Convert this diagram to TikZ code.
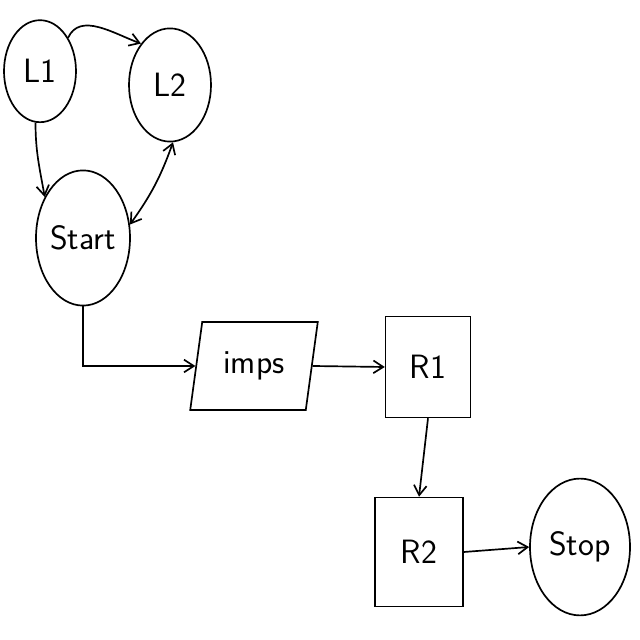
\documentclass[tikz,border=0pt]{standalone}
\usepackage{xcolor}
\usepackage{tikz}
\usetikzlibrary{positioning, arrows.meta, shapes.geometric}

\begin{document}
\begin{tikzpicture}[
  termnode/.style={ellipse, draw=black, line width=1.2pt, inner sep=0pt,
                   font=\fontsize{24}{28}\selectfont\sffamily},
  procnode/.style={rectangle, draw=black, line width=1.2pt, inner sep=0pt,
                   font=\fontsize{24}{28}\selectfont\sffamily},
  ionode/.style={trapezium, trapezium left angle=76, trapezium right angle=104,
                 trapezium stretches=true, draw=black, line width=1.2pt,
                 minimum width=3.2cm, minimum height=2.2cm, inner sep=0pt,
                 font=\fontsize{24}{28}\selectfont\sffamily},
  arr/.style={-{Straight Barb[length=7pt, width=9pt]}, line width=1.2pt}
]
\useasboundingbox (0,0) rectangle (16,16);

% Loop nodes
\node[termnode, minimum width=1.8cm, minimum height=2.55cm] (l1) at (1.0, 14.22) {L1};
\node[termnode, minimum width=2.05cm, minimum height=2.83cm] (l2) at (4.25, 13.875) {L2};
\node[termnode, minimum width=2.35cm, minimum height=3.38cm] (start) at (2.075, 10.05) {Start};

% Process chain
\node[ionode] (imps) at (6.35, 6.85) {imps};
\node[procnode, minimum width=2.12cm, minimum height=2.52cm] (r1) at (10.7, 6.825) {R1};
\node[procnode, minimum width=2.2cm, minimum height=2.72cm] (r2) at (10.475, 2.2) {R2};
\node[termnode, minimum width=2.5cm, minimum height=3.42cm] (stop) at (14.5, 2.325) {Stop};

% Arrows
\draw[arr] (l1.50) to[out=65, in=160] (l2.125);
\draw[arr] (l1.265) to[out=270, in=100] (start.133);
\draw[arr, {Straight Barb[length=7pt, width=9pt]}-{Straight Barb[length=7pt, width=9pt]}]
    (start.16) to[bend right=8] (l2.273);
\draw[arr] (start.south) |- (imps.west);
\draw[arr] (imps.east) -- (r1.west);
\draw[arr] (r1.south) -- (r2.north);
\draw[arr] (r2.east) -- (stop.west);

\end{tikzpicture}
\end{document}
